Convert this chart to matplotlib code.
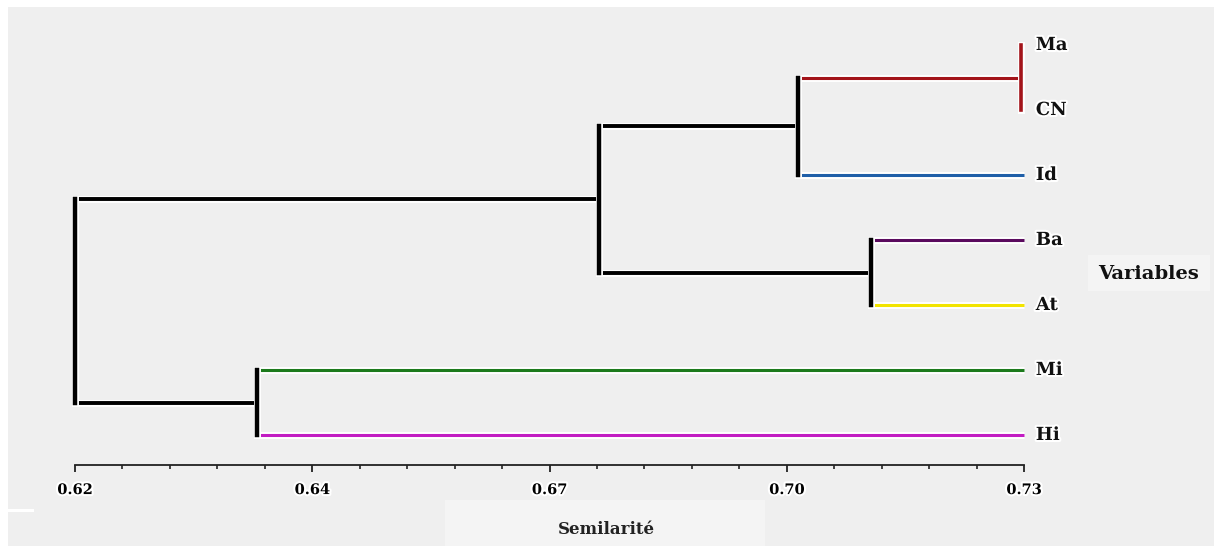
import numpy as np
import matplotlib
matplotlib.use("Agg")
import matplotlib.pyplot as plt
import matplotlib.patheffects as pe
from matplotlib.patches import Rectangle

# leaves, top to bottom
labels = ["Ma", "CN", "Id", "Ba", "At", "Mi", "Hi"]
leaf_colors = ["#a3141a", "#a3141a", "#1f5fa8", "#5a0a5e", "#f2e400", "#1c7a1c", "#c21cc2"]
leaf_sim = 0.73

# merges: (node a, node b, similarity); nodes 0-6 are leaves, 7+ are merges in order
merges = [(0, 1, 0.7296), (7, 2, 0.7038), (3, 4, 0.7123), (8, 9, 0.6807), (5, 6, 0.6411), (10, 11, 0.62)]
merge_colors = ["#a3141a", "black", "black", "black", "black", "black"]

tick_vals = np.linspace(0.62, 0.73, 5)
tick_labels = ["0.62", "0.64", "0.67", "0.70", "0.73"]

W, H = 1214, 546
fig = plt.figure(figsize=(W / 100, H / 100), dpi=100)
fig.patch.set_facecolor("white")
fig.patches.append(Rectangle((8 / W, 0), 1 - 8 / W, 1 - 7 / H, transform=fig.transFigure,
                             facecolor="#efefef", edgecolor="none", zorder=-10))
fig.patches.append(Rectangle((445 / W, 0), 320 / W, 46 / H, transform=fig.transFigure,
                             facecolor="#f4f4f4", edgecolor="none", zorder=-9))
fig.patches.append(Rectangle((1088 / W, 1 - 291 / H), 122 / W, 36 / H, transform=fig.transFigure,
                             facecolor="#f4f4f4", edgecolor="none", zorder=-9))
fig.patches.append(Rectangle((8 / W, 1 - 512 / H), 26 / W, 3 / H, transform=fig.transFigure,
                             facecolor="white", edgecolor="none", zorder=-9))

# axes placed so that 0.62 -> px 75, 0.73 -> px 1024, axis line at px 465
x0, x1 = 75, 1024
ytop, ybot = 10, 465
ax = fig.add_axes([x0 / W, 1 - ybot / H, (x1 - x0) / W, (ybot - ytop) / H])
ax.set_facecolor("none")
leaf_px0, leaf_step = 45, 65
ax.set_xlim(0.62, 0.73)
ax.set_ylim((ybot - leaf_px0) / leaf_step, (ytop - leaf_px0) / leaf_step)

halo = [pe.withStroke(linewidth=5, foreground="white")]

ypos = {i: float(i) for i in range(len(labels))}
xpos = {i: leaf_sim for i in range(len(labels))}
colors = {i: c for i, c in enumerate(leaf_colors)}

for k, (a, b, s) in enumerate(merges):
    node = len(labels) + k
    for child in (a, b):
        c = colors[child]
        lw = 2.8 if c == "black" else 2.2
        ax.plot([xpos[child], s], [ypos[child], ypos[child]], color=c, lw=lw,
                solid_capstyle="butt", path_effects=halo, zorder=2, clip_on=False)
    mc = merge_colors[k]
    vlw = 3.2 if mc == "black" else 2.6
    ax.plot([s, s], [ypos[a], ypos[b]], color=mc, lw=vlw,
            solid_capstyle="projecting", path_effects=halo, zorder=3, clip_on=False)
    ypos[node] = (ypos[a] + ypos[b]) / 2
    xpos[node] = s
    colors[node] = mc

serif = ["DejaVu Serif"]
for i, lab in enumerate(labels):
    ax.annotate(lab, (leaf_sim, i), xytext=(8.5, 0), textcoords="offset points",
                ha="left", va="center", fontsize=13, fontweight="bold",
                family=serif, color="#111111",
                path_effects=[pe.withStroke(linewidth=3, foreground="white")],
                annotation_clip=False)

for s in ["top", "right", "left"]:
    ax.spines[s].set_visible(False)
ax.spines["bottom"].set_linewidth(1.3)
ax.spines["bottom"].set_color("#222222")
ax.set_yticks([])
ax.set_xticks(tick_vals)
ax.set_xticklabels(tick_labels, fontsize=10.5, fontweight="bold", family=serif)
minor = np.concatenate([np.linspace(tick_vals[i], tick_vals[i + 1], 6)[1:-1] for i in range(4)])
ax.set_xticks(minor, minor=True)
ax.tick_params(axis="x", which="major", length=5, width=1.3, pad=8, color="#222222")
ax.tick_params(axis="x", which="minor", length=3, width=1.2, color="#222222")
for t in ax.get_xticklabels():
    t.set_path_effects([pe.withStroke(linewidth=3, foreground="white")])

fig.text(1149 / W, 1 - 274 / H, "Variables", ha="center", va="center", fontsize=14,
         fontweight="bold", family=serif, color="#111111")
fig.text(606 / W, 1 - 529 / H, "Semilarité", ha="center", va="center", fontsize=12,
         fontweight="bold", family=serif, color="#222222")

fig.savefig("out.png", dpi=100, facecolor=fig.get_facecolor())
